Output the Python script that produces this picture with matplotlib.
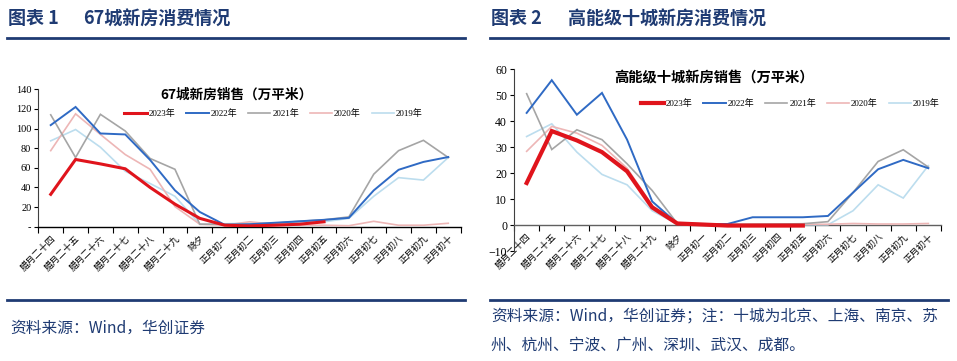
import numpy as np
import matplotlib
matplotlib.use("Agg")
import matplotlib.pyplot as plt
from matplotlib.ticker import FuncFormatter

plt.rcParams['font.family'] = ['Noto Sans CJK SC', 'DejaVu Sans']

# x categories: 腊月二十四 ... 正月初十
days = ['腊月二十四', '腊月二十五', '腊月二十六', '腊月二十七', '腊月二十八',
        '腊月二十九', '除夕', '正月初一', '正月初二', '正月初三', '正月初四',
        '正月初五', '正月初六', '正月初七', '正月初八', '正月初九', '正月初十']
years = ['2023年', '2022年', '2021年', '2020年', '2019年']

# 67城新房销售（万平米）
c67_2023 = [33, 68.5, 64, 59, 40, 23, 8.5, 1.5, 0.8, 1.5, 2.5, 5]
c67_2022 = [103.5, 122, 95, 94, 68, 37, 15, 2, 2.5, 4, 5.5, 7, 9, 37, 58, 66, 71]
c67_2021 = [114, 70.5, 114.5, 97.5, 69.5, 58.5, 2.5, 2.5, 2.5, 3.5, 5.5, 7, 10, 53.5, 77.5, 88, 70.5]
c67_2020 = [77.5, 115, 94, 73.5, 58.5, 20.5, 2.5, 1.5, 5, 2.5, 1.5, 1.5, 1, 5.5, 1.5, 1.5, 3.5]
c67_2019 = [87.5, 99, 81, 56.5, 44, 31, 2.5, 3, 3.5, 3, 4, 5, 8.5, 31, 50, 47.5, 70.5]

# 高能级十城新房销售（万平米）
c10_2023 = [16.2, 36.2, 32.6, 28.1, 20.7, 6.8, 0.6, 0.2, -0.2, -0.2, -0.2, -0.2]
c10_2022 = [43.2, 55.8, 42.5, 50.9, 32.9, 9.1, 0.6, 0.2, 0.4, 3.0, 3.0, 3.0, 3.5, 12.5, 21.5, 25.1, 21.9]
c10_2021 = [50.6, 29.1, 36.7, 32.9, 23.6, 13.3, 0.6, 0.3, 0.2, 0.3, 0.4, 0.5, 1.3, 12.5, 24.5, 29.0, 22.3]
c10_2020 = [28.4, 38.0, 35.4, 30.7, 21.9, 7.5, 0.9, 0.5, 0.3, 0.3, 0.3, 0.3, 0.3, 0.6, 0.4, 0.4, 0.6]
c10_2019 = [34.1, 39.0, 28.1, 19.5, 15.5, 5.5, 0.4, 0.1, 0.1, 0.1, 0.1, 0.1, 0.1, 5.5, 15.5, 10.4, 22.9]

colors = ['#E0141C', '#2F6AC4', '#A5A5A5', '#EDB6B6', '#BCDDEE']
navy = '#1F3B73'
serif = ['Liberation Serif', 'Noto Sans CJK SC']

fig = plt.figure(figsize=(9.57, 3.61), dpi=100)


def px(x, y):
    # pixel position (from top-left) -> figure fraction
    return x / 957, 1 - y / 361


def draw(ax, series, lw_red, ylim, yticks, ysize, zero_spine=False, fmt=None):
    if zero_spine:
        # has to come first, set_position resets the tick settings
        ax.spines['bottom'].set_position(('data', 0))
    x = np.arange(len(days))
    for i in range(len(series) - 1, -1, -1):
        vals = series[i]
        lw = lw_red if i == 0 else (1.4 if i == 1 else 1.2)
        ax.plot(x[:len(vals)], vals, color=colors[i], lw=lw, label=years[i],
                zorder=10 - i, solid_joinstyle='miter')
    ax.set_xlim(-0.5, len(days) - 0.5)
    ax.set_ylim(*ylim)
    ax.set_yticks(yticks)
    if fmt is not None:
        ax.yaxis.set_major_formatter(FuncFormatter(fmt))
    ax.set_xticks(x)
    ax.set_xticklabels(days, rotation=45, ha='right', va='top',
                       rotation_mode='anchor', fontsize=6.6)
    ax.set_xticks(np.arange(-0.5, len(days)), minor=True)
    ax.tick_params(axis='x', which='major', length=0, pad=5)
    ax.tick_params(axis='x', which='minor', length=4, width=0.8, direction='out')
    ax.tick_params(axis='y', length=3, width=0.8, pad=2, labelsize=ysize)
    for lab in ax.get_yticklabels():
        lab.set_family(serif)
    ax.spines['top'].set_visible(False)
    ax.spines['right'].set_visible(False)
    ax.spines['left'].set_color('#404040')
    ax.spines['bottom'].set_color('black' if not zero_spine else '#606060')
    ax.spines['left'].set_linewidth(0.8)
    ax.spines['bottom'].set_linewidth(1.0)


# left panel
ax1 = fig.add_axes([38.3 / 957, 1 - 226.7 / 361, 422.4 / 957, 137.4 / 361])
draw(ax1, [c67_2023, c67_2022, c67_2021, c67_2020, c67_2019], 2.2,
     (0, 140), np.arange(0, 141, 20), 7.5,
     fmt=lambda v, p: '-' if v == 0 else '%d' % v)

# right panel
ax2 = fig.add_axes([514.1 / 957, 1 - 251 / 361, 426.8 / 957, 181.7 / 361])
draw(ax2, [c10_2023, c10_2022, c10_2021, c10_2020, c10_2019], 3.0,
     (-10, 60), np.arange(-10, 61, 10), 8.5, zero_spine=True)

# legends
h1, l1 = ax1.get_legend_handles_labels()
h2, l2 = ax2.get_legend_handles_labels()
order = [4, 3, 2, 1, 0]
for h, l, pos in [(h1, l1, (124, 114)), (h2, l2, (641, 104))]:
    fig.legend([h[k] for k in order], [l[k] for k in order], ncol=5,
               loc='center left', bbox_to_anchor=px(*pos), frameon=False,
               prop={'family': serif, 'size': 6.5}, handlelength=2.5,
               handletextpad=0.2, columnspacing=1.2, borderpad=0,
               borderaxespad=0)

# in-chart titles
fig.text(*px(236.5, 95), '67城新房销售（万平米）', ha='center', va='center',
         fontsize=9.8, fontweight='bold', color='black')
fig.text(*px(713.5, 78), '高能级十城新房销售（万平米）', ha='center', va='center',
         fontsize=10.3, fontweight='bold', color='black')

# panel headings
fig.text(*px(8, 19), '图表 1', ha='left', va='center', fontsize=13,
         fontweight='bold', color=navy)
fig.text(*px(83, 19), '67城新房消费情况', ha='left', va='center', fontsize=13,
         fontweight='bold', color=navy)
fig.text(*px(491, 19), '图表 2', ha='left', va='center', fontsize=13,
         fontweight='bold', color=navy)
fig.text(*px(568, 19), '高能级十城新房消费情况', ha='left', va='center',
         fontsize=13, fontweight='bold', color=navy)

# rules
for x0, x1 in [(7, 465), (490, 948)]:
    fig.add_artist(plt.Line2D([x0 / 957, x1 / 957], [1 - 37.5 / 361] * 2,
                              color=navy, lw=2.0))
    fig.add_artist(plt.Line2D([x0 / 957, x1 / 957], [1 - 299.5 / 361] * 2,
                              color=navy, lw=2.0))

# sources
fig.text(*px(10, 328), '资料来源：Wind，华创证券', ha='left', va='center',
         fontsize=11.3, color=navy, style='italic')
fig.text(*px(491, 316.5), '资料来源：Wind，华创证券；注：十城为北京、上海、南京、苏',
         ha='left', va='center', fontsize=11.3, color=navy, style='italic')
fig.text(*px(491, 345), '州、杭州、宁波、广州、深圳、武汉、成都。',
         ha='left', va='center', fontsize=11.3, color=navy, style='italic')

fig.savefig('out.png', dpi=100)
